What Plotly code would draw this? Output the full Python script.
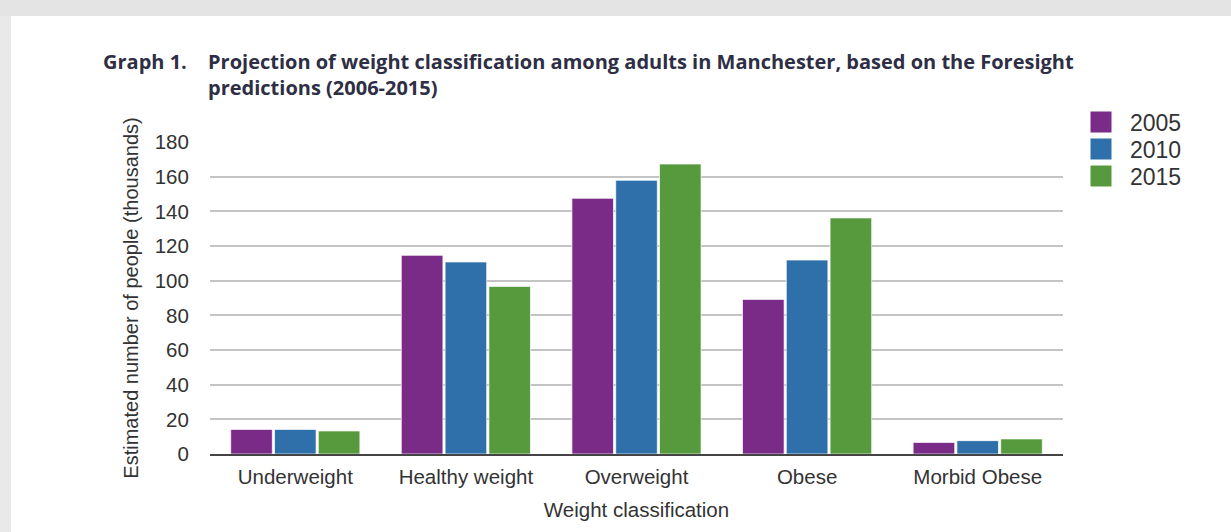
import plotly.graph_objects as go

categories = ["Underweight", "Healthy weight", "Overweight", "Obese", "Morbid Obese"]
years = ["2005", "2010", "2015"]
values_2005 = [14.2, 114.6, 147.5, 89.2, 6.7]
values_2010 = [14.2, 110.8, 157.9, 111.9, 7.7]
values_2015 = [13.3, 96.7, 167.3, 136.2, 8.7]
y_ticks = [0, 20, 40, 60, 80, 100, 120, 140, 160, 180]
colors = ["#7a2a87", "#2f70ab", "#579a3e"]

W, H = 1231, 532
L, R, T, B = 210, 1063, 142, 454

def px_x(p):
    return (p - L) / (R - L)

def px_y(p):
    return (B - p) / (B - T)

fig = go.Figure()
series = [values_2005, values_2010, values_2015]
for name, vals, c in zip(years, series, colors):
    fig.add_trace(go.Bar(
        x=categories, y=vals, name=name, showlegend=False,
        marker=dict(color=c, line=dict(color="rgba(255,255,255,0.7)", width=1)),
    ))

legend_ids = ["legend", "legend2", "legend3"]
legend_centers = [122, 149, 176]
for name, c, lid in zip(years, colors, legend_ids):
    fig.add_trace(go.Scatter(
        x=[None], y=[None], mode="markers", name=name, legend=lid,
        marker=dict(symbol="square", size=16, color=c, line=dict(color=c, width=5)),
    ))

font = "Liberation Sans, Arial, sans-serif"

legend_layout = {}
for lid, cy in zip(legend_ids, legend_centers):
    legend_layout[lid] = dict(
        x=px_x(1072), y=px_y(cy), xanchor="left", yanchor="middle",
        font=dict(family=font, size=23, color="#333333"),
        itemwidth=48, bgcolor="rgba(0,0,0,0)",
    )

fig.update_layout(
    width=W, height=H,
    margin=dict(l=L, r=W - R, t=T, b=H - B, autoexpand=False),
    paper_bgcolor="#e9e9e9",
    plot_bgcolor="rgba(0,0,0,0)",
    barmode="group",
    bargap=0.23,
    bargroupgap=0.05,
    font=dict(family=font, size=20, color="#333333"),
    showlegend=True,
    xaxis=dict(
        showgrid=False, showline=True, linecolor="#444444", linewidth=2,
        ticks="outside", ticklen=3, tickcolor="rgba(0,0,0,0)",
        tickfont=dict(size=20.5, color="#333333"),
        title=dict(text="Weight classification", font=dict(size=20.5, color="#333333"), standoff=16),
    ),
    yaxis=dict(
        range=[0, 180], tickvals=y_ticks, ticktext=[str(v) for v in y_ticks],
        showgrid=True, gridcolor="#c4c4c4", gridwidth=1.5,
        zeroline=False, showline=False,
        ticks="outside", ticklen=16, tickcolor="rgba(0,0,0,0)",
        tickfont=dict(size=20.5, color="#333333"),
        title=dict(text="Estimated number of people (thousands)", font=dict(size=20, color="#333333"), standoff=10),
    ),
    shapes=[
        dict(type="rect", xref="paper", yref="paper",
             x0=px_x(11), x1=px_x(1300), y0=px_y(600), y1=px_y(16),
             fillcolor="white", line=dict(width=0), layer="below"),
        dict(type="rect", xref="paper", yref="paper",
             x0=px_x(0), x1=px_x(1300), y0=px_y(16), y1=px_y(0),
             fillcolor="#e4e4e4", line=dict(width=0), layer="below"),
    ],
    annotations=[
        dict(text="<b>Graph 1.</b>", xref="paper", yref="paper",
             x=px_x(101), y=px_y(46), xanchor="left", yanchor="top", showarrow=False,
             align="left", font=dict(family="Open Sans, sans-serif", size=20, color="#2e2e44")),
        dict(text="<b>Projection of weight classification among adults in Manchester, based on the Foresight<br>predictions (2006-2015)</b>",
             xref="paper", yref="paper",
             x=px_x(206), y=px_y(46), xanchor="left", yanchor="top", showarrow=False,
             align="left", font=dict(family="Open Sans, sans-serif", size=20, color="#2e2e44")),
    ],
    **legend_layout,
)

fig.write_html("out.html")
